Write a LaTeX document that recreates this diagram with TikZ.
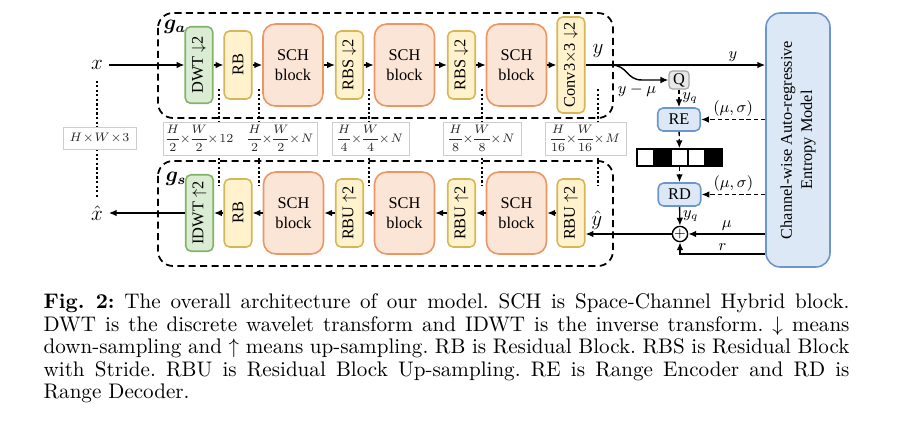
\documentclass[tikz,border=0pt]{standalone}
\usepackage{amsmath}
\usepackage{fontspec}
\newfontfamily\blkfont{Liberation Serif}
\newfontfamily\capfont{lmroman10-regular.otf}[BoldFont=lmroman10-bold.otf]
\usetikzlibrary{arrows.meta,positioning}
\definecolor{schfill}{RGB}{251,229,214}
\definecolor{schdraw}{RGB}{236,150,100}
\definecolor{rbfill}{RGB}{255,242,204}
\definecolor{rbdraw}{RGB}{214,182,86}
\definecolor{dwtfill}{RGB}{218,236,211}
\definecolor{dwtdraw}{RGB}{130,179,102}
\definecolor{entfill}{RGB}{220,232,246}
\definecolor{entdraw}{RGB}{108,150,205}
\definecolor{qfill}{RGB}{232,232,232}
\definecolor{qdraw}{RGB}{165,165,165}
\definecolor{dimdraw}{RGB}{205,205,205}
\definecolor{dimtext}{RGB}{40,40,40}
\newcommand\dimfont{\fontsize{6.8}{8}\selectfont\medmuskip=1mu\relax\nulldelimiterspace=0pt\relax}

\begin{document}
\begin{tikzpicture}[x=0.02cm,y=-0.02cm,line width=0.8pt,>={Latex[length=4.5pt,width=3.8pt]}]
  \tikzset{
    blk/.style={draw,line width=0.9pt,rounded corners=3pt,inner sep=0pt,align=center,font=\blkfont\fontsize{9.3}{11.4}\selectfont},
    schblk/.style={blk,fill=schfill,draw=schdraw,rounded corners=7pt,minimum width=1.2cm,minimum height=1.64cm},
    rbblk/.style={blk,fill=rbfill,draw=rbdraw,minimum width=0.55cm,minimum height=1.36cm},
    dwtblk/.style={blk,fill=dwtfill,draw=dwtdraw,minimum width=0.55cm,minimum height=1.53cm},
    coderblk/.style={blk,fill=entfill,draw=entdraw,minimum width=0.85cm,minimum height=0.46cm},
    dimbox/.style={draw=dimdraw,line width=0.5pt,fill=white,inner sep=0pt,minimum height=0.66cm,text=dimtext,font=\dimfont},
    biglbl/.style={font=\fontsize{12}{14}\selectfont,inner sep=3pt},
    lbl/.style={font=\fontsize{9}{11}\selectfont,inner sep=1.5pt},
    dotline/.style={line width=1.4pt,dash pattern=on 1.3pt off 1.3pt},
    dsh/.style={dash pattern=on 2.5pt off 1.6pt},
    grpbox/.style={line width=1pt,dash pattern=on 4pt off 2.5pt,rounded corners=0.3cm},
    bitcell/.style={draw,line width=0.8pt,minimum size=0.34cm,inner sep=0pt}
  }
  \useasboundingbox (0,0) rectangle (900,432);

  % analysis / synthesis groups
  \draw[grpbox] (158,13) rectangle (613,118);
  \draw[grpbox] (158,161) rectangle (613,266);
  \node[biglbl,inner sep=0pt] (galbl) at (175,27) {$\boldsymbol{g_a}$};
  \node[biglbl,inner sep=0pt] (gslbl) at (176,179) {$\boldsymbol{g_s}$};

  % input / output
  \node[biglbl] (x) at (97,65) {$x$};
  \node[biglbl] (xhat) at (97,213) {$\hat{x}$};

  % shape annotations
  \draw[dotline,shorten <=0.1cm,shorten >=0.06cm] (x.south) -- (xhat.north);
  \foreach \k/\xx in {a/219,b/259,c/369,d/482,e/598} {
    \coordinate (dt\k) at (\xx,89);
    \coordinate (db\k) at (\xx,185);
    \draw[dotline] (dt\k) -- (db\k);
  }
  \node[dimbox,minimum width=1.46cm,minimum height=0.44cm] (dimx) at (99.5,138) {$H\times W\times 3$};
  \node[dimbox,minimum width=3.08cm] (dimA) at (240,138.5) {$\dfrac{H}{2}\times\dfrac{W}{2}\times 12$\hspace{0.3cm}$\dfrac{H}{2}\times\dfrac{W}{2}\times N$};
  \node[dimbox,minimum width=1.54cm] (dimB) at (370.5,138.5) {$\dfrac{H}{4}\times\dfrac{W}{4}\times N$};
  \node[dimbox,minimum width=1.56cm] (dimC) at (482,138.5) {$\dfrac{H}{8}\times\dfrac{W}{8}\times N$};
  \node[dimbox,minimum width=1.62cm] (dimD) at (585.5,138.5) {$\dfrac{H}{16}\times\dfrac{W}{16}\times M$};

  % encoder
  \node[dwtblk] (dwt) at (199,65) {\rotatebox{90}{DWT $\downarrow$2}};
  \node[rbblk] (rbA) at (238,65) {\rotatebox{90}{RB}};
  \node[schblk] (schA) at (293,65) {SCH\\block};
  \node[rbblk] (rbsA) at (349.5,65) {\rotatebox{90}{RBS $\downarrow$2}};
  \node[schblk] (schB) at (404.5,65) {SCH\\block};
  \node[rbblk] (rbsB) at (461.5,65) {\rotatebox{90}{RBS $\downarrow$2}};
  \node[schblk] (schC) at (516.5,65) {SCH\\block};
  \node[rbblk,minimum height=1.92cm] (conv) at (571,65) {\rotatebox{90}{Conv3$\times$3 $\downarrow$2}};

  % decoder
  \node[dwtblk] (idwt) at (199.5,213) {\rotatebox{90}{IDWT $\uparrow$2}};
  \node[rbblk] (rbB) at (238,213) {\rotatebox{90}{RB}};
  \node[schblk] (schD) at (293.5,213) {SCH\\block};
  \node[rbblk] (rbuA) at (349.5,213) {\rotatebox{90}{RBU $\uparrow$2}};
  \node[schblk] (schE) at (404.5,213) {SCH\\block};
  \node[rbblk] (rbuB) at (461.5,213) {\rotatebox{90}{RBU $\uparrow$2}};
  \node[schblk] (schF) at (516.5,213) {SCH\\block};
  \node[rbblk] (rbuC) at (571,213) {\rotatebox{90}{RBU $\uparrow$2}};

  % entropy coding
  \node[blk,fill=entfill,draw=entdraw,rounded corners=8pt,minimum width=1.28cm,minimum height=5.08cm] (ent) at (798,140)
    {\rotatebox{90}{\begin{tabular}{@{}c@{}}Channel-wise Auto-regressive\\Entropy Model\end{tabular}}};
  \node[blk,fill=qfill,draw=qdraw,line width=0.7pt,rounded corners=2pt,minimum width=0.4cm,minimum height=0.36cm] (q) at (679,80) {Q};
  \node[coderblk] (re) at (679,119.5) {RE};
  \node[coderblk] (rd) at (679.5,194.5) {RD};
  \foreach \i/\c in {1/white,2/black,3/white,4/white,5/black}
    \node[bitcell,fill=\c] (b\i) at ({628.5+17*\i},157.5) {};
  \node[draw,circle,fill=white,line width=0.8pt,minimum size=0.28cm,inner sep=0pt,font=\fontsize{8}{8}\selectfont] (plus) at (680,234) {$+$};
  \coordinate (split) at (611,65);
  \coordinate (rturn) at ([yshift=-0.4cm]plus.center);

  % connections
  \draw[->] (x) -- (dwt);
  \foreach \a/\b in {dwt/rbA,rbA/schA,schA/rbsA,rbsA/schB,schB/rbsB,rbsB/schC,schC/conv}
    \draw[->] (\a) -- (\b);
  \draw[->] (conv) -- (conv -| ent.west) node[lbl,pos=0.82,above] {$y$};
  \node[biglbl,inner sep=0pt] (ylbl) at (598,51) {$y$};
  \draw[->] (split) .. controls (628,65) and (626,80) .. (642,80) -- (q.west);
  \node[lbl] (ymu) at (637,90) {$y-\mu$};
  \draw[->,dsh] (q) -- (re) node[lbl,midway,right] {$y_q$};
  \draw[->,dsh] (ent.west |- re) -- (re) node[lbl,midway,above] {$(\mu,\sigma)$};
  \draw[->,dsh] (re) -- (b3);
  \draw[->,dsh] (b3) -- (rd);
  \draw[->,dsh] (ent.west |- rd) -- (rd) node[lbl,midway,above] {$(\mu,\sigma)$};
  \draw[->] (rd) -- (plus) node[lbl,midway,right] {$y_q$};
  \draw[->] (ent.west |- plus) -- (plus) node[lbl,midway,above] {$\mu$};
  \draw[->] (ent.west |- rturn) -- node[lbl,above] {$r$} (rturn) -- (plus);
  \draw[->] (plus) -- (plus -| rbuC.east) node[biglbl,inner sep=2pt,pos=0.87,above] {$\hat{y}$};
  \foreach \a/\b in {rbuC/schF,schF/rbuB,rbuB/schE,schE/rbuA,rbuA/schD,schD/rbB,rbB/idwt}
    \draw[->] (\a) -- (\b);
  \draw[->] (idwt) -- (xhat);

  % caption
  \node[anchor=north west,inner sep=0pt,text width=16.12cm,align=justify,font=\capfont\fontsize{12}{12.8}\selectfont\frenchspacing] (cap) at (43,293)
    {\textbf{Fig. 2:} The overall architecture of our model. SCH is Space-Channel Hybrid block.\linebreak
     DWT is the discrete wavelet transform and IDWT is the inverse transform. $\downarrow$ means\linebreak
     down-sampling and $\uparrow$ means up-sampling. RB is Residual Block. RBS is Residual Block\linebreak
     with Stride. RBU is Residual Block Up-sampling. RE is Range Encoder and RD is\linebreak
     Range Decoder.};
\end{tikzpicture}
\end{document}
